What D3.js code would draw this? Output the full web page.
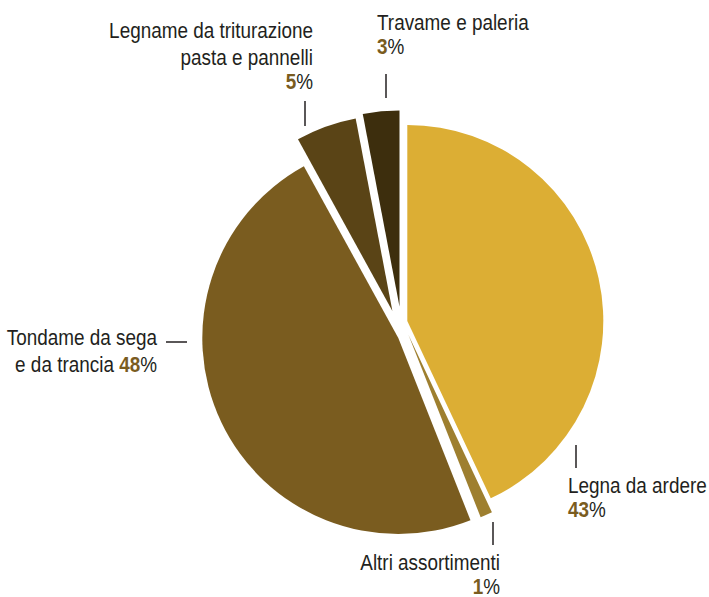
<!DOCTYPE html>
<html>
<head>
<meta charset="utf-8">
<script src="https://cdn.jsdelivr.net/npm/d3@7"></script>
<style>
  html, body { margin: 0; padding: 0; background: #fff; }
  svg text { font-family: "Liberation Sans", Arial, sans-serif; }
</style>
</head>
<body>
<svg id="chart" width="709" height="597"></svg>
<script>
// Assortimenti legnosi: share of the harvest (%)
const categories = [
  "Legna da ardere",
  "Altri assortimenti",
  "Tondame da sega e da trancia",
  "Legname da triturazione pasta e pannelli",
  "Travame e paleria"
];
const shares = [43, 1, 48, 5, 3];
const sliceColors = ["#dcae34", "#9e7f2f", "#7a5c1f", "#5a4416", "#3d2e0d"];

// Label lines for each category (the percentage is appended from `shares`)
const labelLines = [
  ["Legna da ardere"],
  ["Altri assortimenti"],
  ["Tondame da sega", "e da trancia"],
  ["Legname da triturazione", "pasta e pannelli"],
  ["Travame e paleria"]
];

// ---- layout ----
const W = 709, H = 597;
const cx = 403, cy = 325, R = 196;
// how far each wedge is pulled away from the centre (dx, dy in px)
const pull = [[4.3, -4], [5.5, 10], [-4.7, 13], [-10.6, -14], [-3.5, -18.5]];

const svg = d3.select("#chart");

const pie = d3.pie().sort(null).value(d => d).startAngle(0).endAngle(2 * Math.PI);
const arc = d3.arc().innerRadius(0).outerRadius(R);
const arcs = pie(shares);

svg.append("g")
  .selectAll("path")
  .data(arcs)
  .join("path")
  .attr("d", arc)
  .attr("fill", (d, i) => sliceColors[i])
  .attr("transform", (d, i) => `translate(${cx + pull[i][0]},${cy + pull[i][1]})`);

// ---- labels ----
const FS = 22, LH = 27, NARROW = 0.86;   // condensed look: horizontal squeeze
const textColor = "#231f20", pctColor = "#7a5c1f";

// position and arrangement of each label block (pctGap: distance to the % line)
const labelLayout = [
  { x: 568, y: 493,   anchor: "start", pctGap: 24,   tick: [576, 445, 468] },
  { x: 500, y: 569.5, anchor: "end",   pctGap: 24.5, tick: [493, 522, 545] },
  { x: 157, y: 345,   anchor: "end",   pctGap: null, dash: [166, 187, 342] },
  { x: 313, y: 38,    anchor: "end",   pctGap: 24,   tick: [305, 101, 126] },
  { x: 377, y: 30,    anchor: "start", pctGap: 24,   tick: [386, 74, 98] }
];

const lg = svg.append("g");
labelLayout.forEach((L, i) => {
  const lines = labelLines[i];
  const t = lg.append("g")
    .attr("transform", `translate(${L.x},${L.y}) scale(${NARROW},1)`)
    .append("text")
    .attr("text-anchor", L.anchor)
    .attr("font-size", FS)
    .attr("fill", textColor);
  lines.forEach((ln, k) => {
    t.append("tspan").attr("x", 0).attr("y", k * LH).text(ln);
    if (L.pctGap === null && k === lines.length - 1) {
      t.append("tspan").text(" ");
      t.append("tspan").attr("font-weight", "bold").attr("fill", pctColor).text(shares[i]);
      t.append("tspan").text("%");
    }
  });
  if (L.pctGap !== null) {
    const y = (lines.length - 1) * LH + L.pctGap;
    t.append("tspan").attr("x", 0).attr("y", y)
      .attr("font-weight", "bold").attr("fill", pctColor).text(shares[i]);
    t.append("tspan").text("%");
  }
  if (L.tick) {
    lg.append("line")
      .attr("x1", L.tick[0]).attr("x2", L.tick[0])
      .attr("y1", L.tick[1]).attr("y2", L.tick[2])
      .attr("stroke", "#231f20").attr("stroke-width", 1.5);
  }
  if (L.dash) {
    lg.append("line")
      .attr("x1", L.dash[0]).attr("x2", L.dash[1])
      .attr("y1", L.dash[2]).attr("y2", L.dash[2])
      .attr("stroke", "#231f20").attr("stroke-width", 1.5);
  }
});
</script>
</body>
</html>
